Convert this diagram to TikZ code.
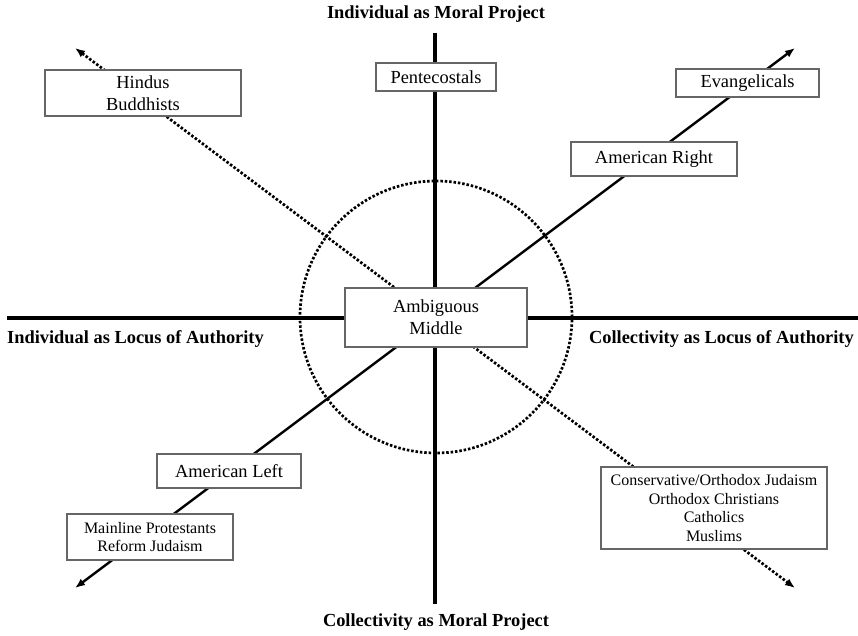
\documentclass[tikz,border=0pt]{standalone}
\usepackage{fontspec}
\setmainfont{Liberation Serif}
\usetikzlibrary{arrows.meta}
\begin{document}
\begin{tikzpicture}[x=1pt,y=-1pt,
  axisline/.style={line width=3.2pt},
  trendline/.style={line width=2.4pt},
  dotline/.style={line width=2.7pt, line cap=butt, dash pattern=on 2.5pt off 1.9pt},
  bothtips/.style={{Latex[length=10pt,width=8pt]}-{Latex[length=10pt,width=8pt]}},
  grp/.style={draw=black!60, line width=1.4pt, fill=white, inner sep=0pt, align=center,
              font=\fontsize{18.4}{22}\selectfont},
  grpsmall/.style={grp, font=\fontsize{16}{18.6}\selectfont},
  pole/.style={inner sep=0pt, font=\fontsize{18.4}{22}\selectfont\bfseries}
]
\useasboundingbox (0,0) rectangle (858,636);

% axis end points and diagonal tips
\coordinate (O) at (435,318);
\coordinate (axN) at (435,33);
\coordinate (axS) at (435,604);
\coordinate (axW) at (7,318);
\coordinate (axE) at (858,318);
\coordinate (tipNE) at (795,48);
\coordinate (tipSW) at (75,588);
\coordinate (tipNW) at (75,48);
\coordinate (tipSE) at (795,588);
\coordinate (mid) at (436,317);

% the two axes
\draw[axisline] (axN) -- (axS);
\draw[axisline] (axW) -- (axE);

% zone of the ambiguous middle
\draw[dotline] (mid) circle[radius=136pt];

% diagonal dimensions
\draw[trendline, bothtips] (tipSW) -- (tipNE);
\draw[dotline, bothtips] (tipNW) -- (tipSE);

% groups placed along the dimensions
\node[grp, minimum width=182pt, minimum height=59pt] (ambig) at (436,317.5) {Ambiguous\\Middle};
\node[grp, minimum width=120pt, minimum height=28pt] (pent) at (436,77) {Pentecostals};
\node[grp, minimum width=196pt, minimum height=46pt] (hindu) at (143,93) {Hindus\\Buddhists};
\node[grp, minimum width=143pt, minimum height=28pt] (evang) at (747.5,83) {Evangelicals};
\node[grp, minimum width=166pt, minimum height=34pt] (amright) at (654,159) {American Right};
\node[grp, minimum width=144pt, minimum height=34pt] (amleft) at (229,471) {American Left};
\node[grpsmall, minimum width=166pt, minimum height=46pt] (mainline) at (150,537) {Mainline Protestants\\Reform Judaism};
\node[grpsmall, minimum width=226pt, minimum height=82pt] (orth) at (714,508)
  {Conservative/Orthodox Judaism\\Orthodox Christians\\Catholics\\Muslims};

% pole labels
\node[pole] (poleN) at (436,14) {Individual as Moral Project};
\node[pole] (poleS) at (436,622) {Collectivity as Moral Project};
\node[pole, anchor=west] (poleW) at (7,339) {Individual as Locus of Authority};
\node[pole, anchor=east] (poleE) at (854,339) {Collectivity as Locus of Authority};
\end{tikzpicture}
\end{document}
